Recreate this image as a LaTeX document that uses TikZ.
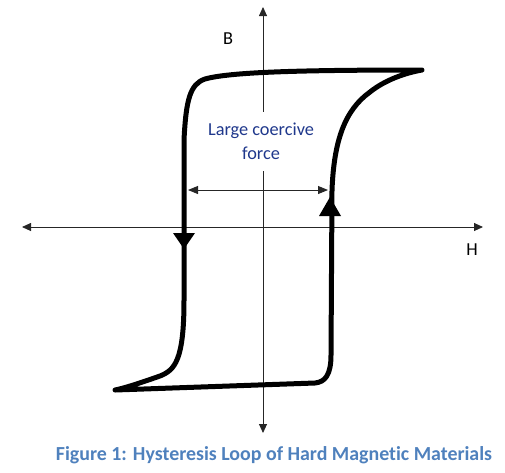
\documentclass[tikz,border=0pt]{standalone}
\usepackage{fontspec}
\setmainfont{Carlito}[Ligatures=NoCommon]
\usetikzlibrary{arrows.meta}
\definecolor{labelblue}{RGB}{31,56,140}
\definecolor{captionblue}{RGB}{79,129,189}

\begin{document}
\begin{tikzpicture}[x=1pt,y=-1pt,
  axis/.style={draw=black!85,line width=0.9pt,{Triangle[length=9pt,width=8pt]}-{Triangle[length=9pt,width=8pt]}},
  loopline/.style={line width=5pt,line join=round,line cap=round},
  lbl/.style={font=\fontsize{18.3}{24}\selectfont}]
\useasboundingbox (0,0) rectangle (505,472);

% axes
\coordinate (Hleft) at (22,227);
\coordinate (Hright) at (483,227);
\coordinate (Btop) at (263,7);
\coordinate (Bbot) at (263,433);
\draw[axis] (Hleft) -- (Hright);
\draw[axis] (Btop) -- (Bbot);
\node[lbl] (B) at (228,39) {B};
\node[lbl] (H) at (472,250) {H};

% coercive force
\node[lbl,text=labelblue,fill=white,align=center,minimum height=59pt,inner xsep=2pt] (cf) at (261,141) {Large coercive\\force};
\coordinate (cfl) at (188,190);
\coordinate (cfr) at (328,190);
\draw[draw=black!85,line width=0.9pt,{Triangle[length=10pt,width=8pt]}-{Triangle[length=10pt,width=8pt]}] (cfl) -- (cfr);

% loop
\draw[loopline] (422,70) .. controls (300,70) and (230,72) .. (205,79)
  .. controls (190,84) and (186,100) .. (184,140) -- (184,300)
  .. controls (184,360) and (175,370) .. (160,376)
  .. controls (140,383) and (125,388) .. (115,390)
  -- (315,383) .. controls (325,382) and (331,375) .. (331,355)
  -- (332,190) .. controls (334,140) and (345,110) .. (370,92)
  .. controls (385,80) and (405,73) .. cycle;
\fill (173,233) -- (195,233) -- (184,249) -- cycle;
\fill (319,216) -- (341,216) -- (330,197) -- cycle;

% caption
\node[font=\fontsize{19.9}{24}\selectfont\bfseries,text=captionblue] (cap) at (274,455) {Figure 1: Hysteresis Loop of Hard Magnetic Materials};
\end{tikzpicture}
\end{document}
